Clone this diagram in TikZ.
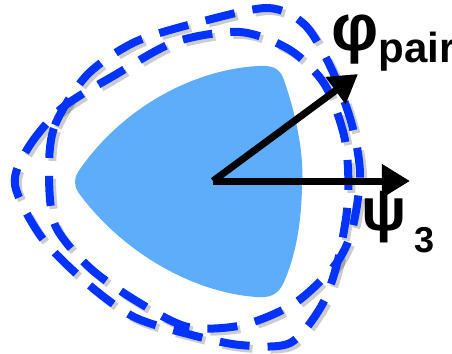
\documentclass[tikz,border=0pt]{standalone}
\usepackage{fontspec}
\setmainfont{Liberation Sans}
\usetikzlibrary{arrows.meta}

\definecolor{planeblue}{RGB}{0,51,255}
\definecolor{fireball}{RGB}{94,173,250}

\begin{document}
\begin{tikzpicture}[x=0.5pt, y=-0.5pt,
    plane/.style={draw=planeblue, line width=4pt, dash pattern=on 15pt off 9pt},
    planeshadow/.style={draw=black, opacity=0.2, line width=4pt, dash pattern=on 15pt off 9pt, xshift=1.5pt, yshift=-1.5pt},
    vec/.style={line width=3.5pt, -{Triangle[length=14pt,width=16pt]}},
    lbl/.style={font=\bfseries, inner sep=0pt, anchor=base west}]

\useasboundingbox (0,0) rectangle (452,354);

% Overlap region
\fill[fireball] (78,172) .. controls (120,110) and (190,70) .. (258,66)
    .. controls (272,65) and (280,68) .. (284,80)
    .. controls (298,120) and (304,160) .. (302,182)
    .. controls (302,220) and (296,255) .. (284,282)
    .. controls (278,296) and (268,298) .. (256,297)
    .. controls (190,292) and (120,250) .. (78,192)
    .. controls (74,186) and (74,178) .. (78,172);

% Event planes: shadows
\draw[planeshadow] plot[smooth cycle] coordinates {(15,185) (28,148) (62,108) (115,75) (175,42) (240,32) (290,50) (325,85) (345,140) (348,200) (338,260) (322,305) (290,343) (240,345) (188,334) (134,317) (88,284) (42,238)};
\draw[planeshadow] plot[smooth cycle] coordinates {(49,170) (55,125) (87,75) (135,42) (200,22) (268,8) (305,25) (332,70) (352,125) (360,175) (352,230) (335,265) (295,303) (243,325) (188,327) (138,302) (90,268) (55,225)};

% Event planes
\draw[plane] plot[smooth cycle] coordinates {(15,185) (28,148) (62,108) (115,75) (175,42) (240,32) (290,50) (325,85) (345,140) (348,200) (338,260) (322,305) (290,343) (240,345) (188,334) (134,317) (88,284) (42,238)};
\draw[plane] plot[smooth cycle] coordinates {(49,170) (55,125) (87,75) (135,42) (200,22) (268,8) (305,25) (332,70) (352,125) (360,175) (352,230) (335,265) (295,303) (243,325) (188,327) (138,302) (90,268) (55,225)};

% Vectors
\coordinate (o) at (213,181);
\coordinate (phitip) at (358,74);
\coordinate (psitip) at (410,181);
\draw[vec] (o) -- (phitip);
\draw[vec] (o) -- (psitip);

% Labels
\node[lbl] (phi) at (331,50) {\fontsize{33}{33}\selectfont φ\raisebox{-6pt}{\fontsize{21}{21}\selectfont pair}};
\node[lbl] (psi) at (361,230) {\fontsize{30}{30}\selectfont ψ\kern4pt\raisebox{-11pt}{\fontsize{18}{18}\selectfont 3}};

\end{tikzpicture}
\end{document}
